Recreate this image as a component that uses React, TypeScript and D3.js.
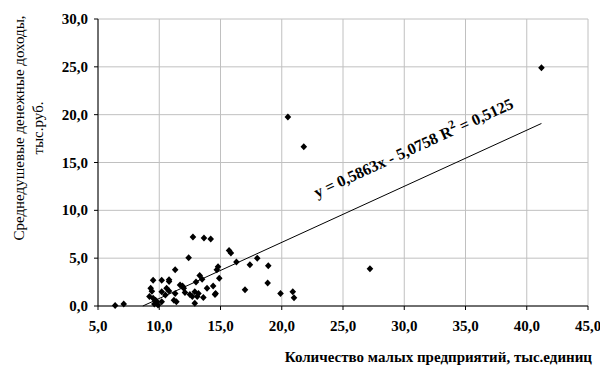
import React from "react";
import * as d3 from "d3";

const xValues = [6.4, 7.1, 9.2, 9.3, 9.4, 9.5, 9.5, 9.6, 9.7, 9.8, 9.9, 10.2, 10.2, 10.2, 10.5, 10.6, 10.8, 10.8, 10.8, 11.3, 11.3, 11.2, 11.4, 11.7, 12.0, 12.1, 11.9, 12.4, 12.75, 13.65, 14.2, 12.9, 12.5, 12.7, 12.9, 13.1, 13.2, 13.0, 13.3, 13.5, 13.6, 13.9, 14.4, 14.55, 14.7, 14.8, 14.9, 14.6, 15.7, 15.85, 16.3, 17.0, 17.4, 18.0, 18.9, 18.85, 19.9, 20.9, 21.0, 20.5, 21.8, 27.2, 41.2];
const yValues = [0.05, 0.2, 1.0, 1.85, 1.55, 2.7, 0.8, 0.2, 0.6, 0.45, 0.1, 2.7, 0.45, 1.5, 1.15, 1.85, 2.75, 2.55, 1.57, 3.8, 1.3, 0.6, 0.45, 2.2, 1.85, 1.4, 2.1, 5.05, 7.2, 7.1, 7.0, 0.3, 1.2, 1.0, 1.5, 1.0, 1.3, 2.5, 3.2, 2.8, 0.9, 1.85, 2.1, 1.2, 3.8, 4.1, 2.9, 1.3, 5.8, 5.55, 4.6, 1.7, 4.3, 5.0, 4.2, 2.4, 1.3, 1.5, 0.85, 19.75, 16.65, 3.9, 24.9];
const xTicks = [5, 10, 15, 20, 25, 30, 35, 40, 45];
const yTicks = [0, 5, 10, 15, 20, 25, 30];
const slope = 0.5863;
const intercept = -5.0758;
const equationLabel = "y = 0,5863x - 5,0758";
const r2Label = "0,5125";
const xTitle = "Количество малых предприятий, тыс.единиц";
const yTitleLines = ["Среднедушевые денежные доходы,", "тыс.руб."];

const W = 600;
const H = 377;
const left = 98;
const right = 588;
const top = 19;
const bottom = 306;
const font = "Liberation Serif, Times New Roman, DejaVu Serif, serif";
const fmt = (v: number) => v.toFixed(1).replace(".", ",");

export default function App() {
  const x = d3.scaleLinear().domain([5, 45]).range([left, right]);
  const y = d3.scaleLinear().domain([0, 30]).range([bottom, top]);
  const xMax = d3.max(xValues) as number;
  const xStart = -intercept / slope;
  const lineData: [number, number][] = [
    [xStart, 0],
    [xMax, slope * xMax + intercept],
  ];
  const line = d3
    .line<[number, number]>()
    .x((d) => x(d[0]))
    .y((d) => y(d[1]));
  const pxSlope = (y(slope * 20 + intercept) - y(slope * 10 + intercept)) / (x(20) - x(10));
  const angle = (Math.atan(pxSlope) * 180) / Math.PI;
  const diamond = (cx: number, cy: number) =>
    `M${cx},${cy - 3.5}L${cx + 3.3},${cy}L${cx},${cy + 3.5}L${cx - 3.3},${cy}Z`;
  const bold = { fontFamily: font, fontWeight: 700, fontSize: 15 } as React.CSSProperties;
  const reg = { fontFamily: font, fontWeight: 400, fontSize: 15 } as React.CSSProperties;

  return (
    <svg width={W} height={H} style={{ position: "absolute", left: 0, top: 0 }}>
      <rect width={W} height={H} fill="#fff" />
      {yTicks.map((t) => (
        <line key={"gy" + t} x1={left} x2={right} y1={y(t)} y2={y(t)} stroke="#c0c0c0" strokeWidth={1} />
      ))}
      {xTicks.map((t) => (
        <line key={"gx" + t} x1={x(t)} x2={x(t)} y1={top} y2={bottom} stroke="#c0c0c0" strokeWidth={1} />
      ))}
      <line x1={left} x2={left} y1={top} y2={bottom} stroke="#000" />
      <line x1={left} x2={right} y1={bottom} y2={bottom} stroke="#000" />
      {yTicks.map((t) => (
        <g key={"ty" + t}>
          <line x1={left - 4} x2={left} y1={y(t)} y2={y(t)} stroke="#000" />
          <text x={left - 10} y={y(t) + 5} textAnchor="end" style={bold}>
            {fmt(t)}
          </text>
        </g>
      ))}
      {xTicks.map((t) => (
        <g key={"tx" + t}>
          <line x1={x(t)} x2={x(t)} y1={bottom} y2={bottom + 4} stroke="#000" />
          <text x={x(t)} y={bottom + 25} textAnchor="middle" style={bold}>
            {fmt(t)}
          </text>
        </g>
      ))}
      <path d={line(lineData) || ""} stroke="#000" strokeWidth={1} fill="none" />
      {xValues.map((xv, i) => (
        <path key={"p" + i} d={diamond(x(xv), y(yValues[i]))} fill="#000" />
      ))}
      <text transform={`translate(317,198) rotate(${angle})`} style={{ ...bold, fontSize: 16 }}>
        {equationLabel} R<tspan dy={-7} style={{ fontSize: 12 }}>2</tspan>
        <tspan dy={7}> = {r2Label}</tspan>
      </text>
      <text x={592} y={362} textAnchor="end" style={bold}>
        {xTitle}
      </text>
      <text transform="translate(24,128) rotate(-90)" textAnchor="middle" style={reg}>
        {yTitleLines[0]}
      </text>
      <text transform="translate(43,128) rotate(-90)" textAnchor="middle" style={reg}>
        {yTitleLines[1]}
      </text>
    </svg>
  );
}
